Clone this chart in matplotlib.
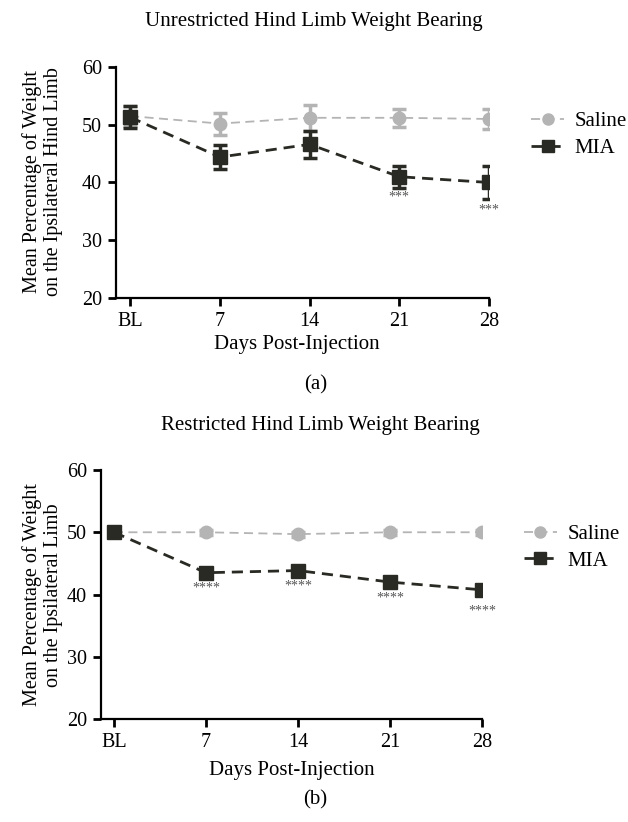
import matplotlib
matplotlib.use("Agg")
from matplotlib import pyplot as plt
from matplotlib.lines import Line2D

plt.rcParams['font.family'] = ['Liberation Serif', 'DejaVu Serif']

# x categories
days = ["BL", "7", "14", "21", "28"]
xpos = [0, 1, 2, 3, 4]

# (a) unrestricted hind limb weight bearing
saline_a = [51.5, 50.2, 51.2, 51.2, 51.0]
saline_a_err = [1.7, 1.9, 2.2, 1.6, 1.7]
mia_a = [51.3, 44.4, 46.6, 41.0, 40.0]
mia_a_err = [1.9, 2.1, 2.4, 1.9, 2.9]
stars_a = {3: ("***", 37.4), 4: ("***", 35.2)}

# (b) restricted hind limb weight bearing
saline_b = [50.0, 50.0, 49.7, 50.0, 50.0]
saline_b_err = [0.4, 0.4, 0.4, 0.4, 0.4]
mia_b = [50.0, 43.5, 43.85, 42.0, 40.75]
mia_b_err = [0.4, 0.4, 0.4, 0.4, 0.4]
stars_b = {1: ("****", 41.0), 2: ("****", 41.3), 3: ("****", 39.4), 4: ("****", 37.4)}

saline_col = "#b4b4b4"
mia_col = "#2a2a24"
sal_ls = (0, (5, 3))
mia_ls = (0, (4, 2.5))

fig = plt.figure(figsize=(6.28, 8.22), dpi=100)
ax_a = fig.add_axes([0.1847, 0.6375, 0.594, 0.281])
ax_b = fig.add_axes([0.1608, 0.1253, 0.6067, 0.3029])


def draw_panel(ax, sal, sal_err, mia, mia_err, stars, xmin, leg_x, leg_y):
    ax.errorbar(xpos, sal, yerr=sal_err, color=saline_col, ecolor=saline_col,
                marker='o', markersize=9, linestyle=sal_ls, linewidth=1.3,
                elinewidth=2.5, capsize=5, capthick=2.5, zorder=2)
    ax.errorbar(xpos, mia, yerr=mia_err, color=mia_col, ecolor=mia_col,
                marker='s', markersize=10, linestyle=mia_ls, linewidth=2,
                elinewidth=2.5, capsize=5, capthick=2.5, zorder=3)
    for i, (s, y) in stars.items():
        ax.text(xpos[i], y, s, ha='center', va='center', fontsize=10, color="#555555")
    ax.set_xlim(xmin, 4.0)
    ax.set_ylim(20, 60)
    ax.set_yticks([20, 30, 40, 50, 60])
    ax.set_xticks(xpos)
    ax.set_xticklabels(days)
    ax.spines['top'].set_visible(False)
    ax.spines['right'].set_visible(False)
    ax.spines['left'].set_linewidth(1.6)
    ax.spines['bottom'].set_linewidth(1.6)
    ax.tick_params(axis='both', direction='out', length=6, width=2, labelsize=14.5, pad=4)
    handles = [
        Line2D([], [], color=saline_col, marker='o', markersize=8, linestyle=sal_ls, linewidth=1.3),
        Line2D([], [], color=mia_col, marker='s', markersize=9, linestyle=mia_ls, linewidth=2),
    ]
    ax.legend(handles, ["Saline", "MIA"], loc='center left', bbox_to_anchor=(leg_x, leg_y),
              frameon=False, fontsize=15, handlelength=1.6, handletextpad=0.5,
              labelspacing=0.35)


draw_panel(ax_a, saline_a, saline_a_err, mia_a, mia_a_err, stars_a, -0.158, 1.062, 0.706)
draw_panel(ax_b, saline_b, saline_b_err, mia_b, mia_b_err, stars_b, -0.141, 1.06, 0.689)

fig.text(0.5, 0.974, "Unrestricted Hind Limb Weight Bearing", ha='center', va='center', fontsize=15)
fig.text(0.51, 0.482, "Restricted Hind Limb Weight Bearing", ha='center', va='center', fontsize=15)

fig.text(0.068, 1 - 182 / 822, "Mean Percentage of Weight\non the Ipsilateral Hind Limb",
         rotation=90, ha='center', va='center', fontsize=14.5, linespacing=1.15)
fig.text(0.068, 1 - 595 / 822, "Mean Percentage of Weight\non the Ipsilateral Limb",
         rotation=90, ha='center', va='center', fontsize=14.5, linespacing=1.15)

fig.text(0.473, 1 - 344 / 822, "Days Post-Injection", ha='center', va='center', fontsize=15)
fig.text(0.465, 1 - 770 / 822, "Days Post-Injection", ha='center', va='center', fontsize=15)

fig.text(0.502, 1 - 385 / 822, "(a)", ha='center', va='center', fontsize=15)
fig.text(0.502, 1 - 800 / 822, "(b)", ha='center', va='center', fontsize=15)

fig.savefig("out.png", dpi=100)
